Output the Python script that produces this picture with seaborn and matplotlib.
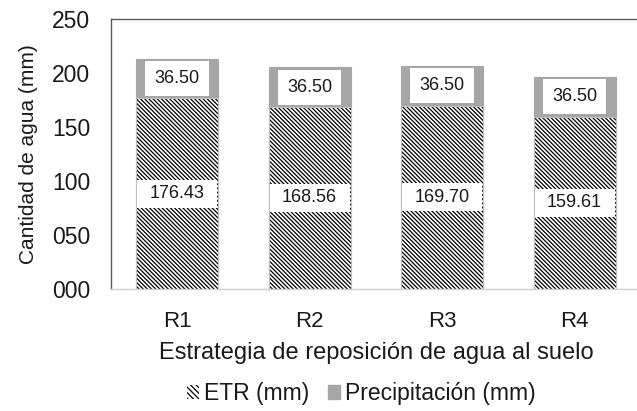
import matplotlib
matplotlib.use("Agg")
import matplotlib.pyplot as plt
from matplotlib.patches import Patch, Rectangle
import seaborn as sns
import pandas as pd

# Water balance per soil-water replenishment strategy
estrategias = ["R1", "R2", "R3", "R4"]
etr_mm = [176.43, 168.56, 169.70, 159.61]
precip_mm = [36.50, 36.50, 36.50, 36.50]
y_ticks = [0, 50, 100, 150, 200, 250]
y_tick_labels = ["000", "050", "100", "150", "200", "250"]

df = pd.DataFrame({
    "estrategia": estrategias,
    "etr": etr_mm,
    "precip": precip_mm,
})
df["total"] = df["etr"] + df["precip"]

sns.set_theme(style="white")
plt.rcParams["font.family"] = ["Liberation Sans", "DejaVu Sans"]
plt.rcParams["hatch.linewidth"] = 0.9
plt.rcParams["hatch.color"] = "black"

GRAY = "#A6A6A6"
EDGE = "#BFBFBF"
TEXT = "#1a1a1a"
BAR_W = 0.62
HATCH = "\\" * 8

fig = plt.figure(figsize=(6.37, 4.11), dpi=100)
ax = fig.add_axes([0.174, 0.297, 0.832, 0.657])

# Stacked bars: full height (precipitation on top) then ETR over it
sns.barplot(data=df, x="estrategia", y="total", color=GRAY, width=BAR_W,
            saturation=1, ax=ax, edgecolor=GRAY, linewidth=0.8)
n = len(df)
sns.barplot(data=df, x="estrategia", y="etr", color="white", width=BAR_W,
            saturation=1, ax=ax, linewidth=0)
etr_bars = ax.patches[n:2 * n]
for p in etr_bars:
    p.set_hatch(HATCH)
    p.set_edgecolor("black")
    p.set_linewidth(0)
    # light outline around the ETR segment
    ax.add_patch(Rectangle((p.get_x(), 0), p.get_width(), p.get_height(),
                           fill=False, edgecolor=EDGE, linewidth=0.8,
                           zorder=p.get_zorder() + 0.1))

# Value labels
for p, etr, pr in zip(etr_bars, df["etr"], df["precip"]):
    cx = p.get_x() + p.get_width() / 2
    box_h = 26
    ax.add_patch(Rectangle((p.get_x() + 0.008, etr / 2 - box_h / 2), p.get_width() - 0.016, box_h,
                           facecolor="white", edgecolor="none", zorder=5))
    ax.text(cx, etr / 2, f"{etr:.2f}", ha="center", va="center", fontsize=13,
            color=TEXT, zorder=6)
    ax.text(cx, etr + pr / 2, f"{pr:.2f}", ha="center", va="center", fontsize=13,
            color=TEXT, zorder=6,
            bbox=dict(boxstyle="square,pad=0.5", facecolor="white", edgecolor="none"))

ax.set_xlim(-0.5, 3.5)
ax.set_ylim(0, 250)
ax.set_yticks(y_ticks)
ax.set_yticklabels(y_tick_labels)
ax.tick_params(axis="y", length=0, pad=15, labelsize=16.5, labelcolor=TEXT)
ax.tick_params(axis="x", length=0, pad=16, labelsize=16, labelcolor=TEXT)
ax.set_xlabel("Estrategia de reposición de agua al suelo", fontsize=17, color=TEXT, labelpad=7)
ax.set_ylabel("Cantidad de agua (mm)", fontsize=15, color=TEXT, labelpad=10)

for side in ["left", "top"]:
    ax.spines[side].set_visible(True)
    ax.spines[side].set_color("#595959")
    ax.spines[side].set_linewidth(1.0)
ax.spines["bottom"].set_color("#D0D0D0")
ax.spines["bottom"].set_linewidth(1.0)
ax.spines["right"].set_visible(False)

handles = [
    Patch(facecolor="white", edgecolor="black", hatch="\\" * 6, linewidth=0),
    Patch(facecolor=GRAY, edgecolor=GRAY),
]
leg = fig.legend(handles, ["ETR (mm)", "Precipitación (mm)"], loc="center",
                 bbox_to_anchor=(0.567, 0.042), ncol=2, frameon=False, fontsize=16.5,
                 handlelength=0.55, handleheight=0.55, handletextpad=0.2,
                 columnspacing=0.8)
for t in leg.get_texts():
    t.set_color(TEXT)

fig.savefig("out.png", dpi=100)
